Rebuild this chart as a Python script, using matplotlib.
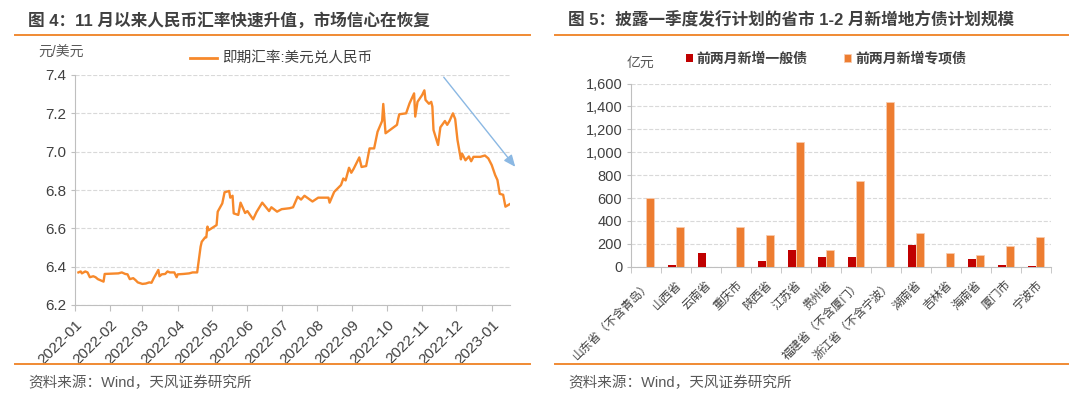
import numpy as np
import pandas as pd
import matplotlib
matplotlib.use("Agg")
import matplotlib.pyplot as plt
import matplotlib.dates as mdates
from matplotlib.lines import Line2D

plt.rcParams['font.family'] = ['Liberation Sans', 'Noto Sans CJK SC', 'DejaVu Sans']

# left chart: USD/CNY spot rate
fx_dates = ['2022-01-04', '2022-01-06', '2022-01-07', '2022-01-10', '2022-01-12', '2022-01-14',
            '2022-01-17', '2022-01-19', '2022-01-21', '2022-01-26', '2022-01-27', '2022-02-08',
            '2022-02-11', '2022-02-14', '2022-02-16', '2022-02-18', '2022-02-21', '2022-02-23',
            '2022-02-25', '2022-03-01', '2022-03-04', '2022-03-07', '2022-03-09', '2022-03-11',
            '2022-03-15', '2022-03-16', '2022-03-18', '2022-03-21', '2022-03-23', '2022-03-25',
            '2022-03-29', '2022-03-31', '2022-04-01', '2022-04-06', '2022-04-11', '2022-04-14',
            '2022-04-18', '2022-04-21', '2022-04-22', '2022-04-25', '2022-04-26', '2022-04-27',
            '2022-04-28', '2022-05-05', '2022-05-06', '2022-05-10', '2022-05-12', '2022-05-16',
            '2022-05-17', '2022-05-19', '2022-05-20', '2022-05-24', '2022-05-26', '2022-05-30',
            '2022-06-01', '2022-06-06', '2022-06-09', '2022-06-14', '2022-06-20', '2022-06-22',
            '2022-06-27', '2022-07-01', '2022-07-08', '2022-07-11', '2022-07-15', '2022-07-18',
            '2022-07-21', '2022-07-28', '2022-08-02', '2022-08-11', '2022-08-12', '2022-08-16',
            '2022-08-22', '2022-08-24', '2022-08-26', '2022-08-29', '2022-08-31', '2022-09-02',
            '2022-09-07', '2022-09-09', '2022-09-13', '2022-09-16', '2022-09-20', '2022-09-23',
            '2022-09-27', '2022-09-28', '2022-09-30', '2022-10-10', '2022-10-11', '2022-10-12',
            '2022-10-18', '2022-10-21', '2022-10-25', '2022-10-26', '2022-10-28', '2022-11-01',
            '2022-11-03', '2022-11-04', '2022-11-07', '2022-11-09', '2022-11-10', '2022-11-11',
            '2022-11-15', '2022-11-17', '2022-11-21', '2022-11-23', '2022-11-25', '2022-11-28',
            '2022-11-30', '2022-12-02', '2022-12-05', '2022-12-06', '2022-12-09', '2022-12-12',
            '2022-12-14', '2022-12-16', '2022-12-22', '2022-12-26', '2022-12-29', '2023-01-01',
            '2023-01-04', '2023-01-06', '2023-01-08', '2023-01-11', '2023-01-13', '2023-01-17']
fx_vals = [6.370, 6.375, 6.365, 6.375, 6.370, 6.345,
           6.350, 6.345, 6.335, 6.322, 6.362, 6.365,
           6.370, 6.362, 6.360, 6.335, 6.340, 6.330,
           6.318, 6.310, 6.312, 6.318, 6.316, 6.340,
           6.383, 6.350, 6.360, 6.362, 6.375, 6.370,
           6.370, 6.345, 6.360, 6.362, 6.365, 6.370,
           6.370, 6.504, 6.530, 6.553, 6.553, 6.609,
           6.590, 6.617, 6.687, 6.730, 6.788, 6.795,
           6.760, 6.770, 6.678, 6.670, 6.734, 6.680,
           6.690, 6.647, 6.685, 6.734, 6.690, 6.710,
           6.687, 6.700, 6.705, 6.710, 6.765, 6.750,
           6.770, 6.740, 6.760, 6.760, 6.734, 6.790,
           6.826, 6.860, 6.850, 6.916, 6.890, 6.910,
           6.970, 6.920, 6.925, 7.017, 7.017, 7.104,
           7.160, 7.249, 7.096, 7.140, 7.170, 7.195,
           7.200, 7.252, 7.304, 7.183, 7.260, 7.295,
           7.320, 7.270, 7.250, 7.260, 7.235, 7.113,
           7.035, 7.127, 7.160, 7.140, 7.160, 7.200,
           7.170, 7.061, 6.960, 6.990, 6.955, 6.975,
           6.950, 6.973, 6.973, 6.980, 6.965, 6.930,
           6.878, 6.852, 6.780, 6.775, 6.713, 6.727]

# right chart: new local bonds planned for Jan-Feb (100m yuan)
regions = ['山东省（不含青岛）', '山西省', '云南省', '重庆市', '陕西省', '江苏省', '贵州省',
           '福建省（不含厦门）', '浙江省（不含宁波）', '湖南省', '吉林省', '海南省', '厦门市', '宁波市']
general_bond = [0, 18, 118, 0, 47, 150, 87, 82, 0, 190, 0, 64, 12, 6]
special_bond = [600, 345, 0, 345, 280, 1085, 148, 752, 1440, 298, 123, 100, 178, 262]

ORANGE_LINE = '#F7892B'
RULE = '#F08A33'
TXT = '#404040'
GRID = '#D9D9D9'
AXC = '#BFBFBF'

fig = plt.figure(figsize=(10.8, 3.97), dpi=100)
W, H = 1080, 397

def fx(px):
    return px / W

def fy(py):
    return 1 - py / H

# titles, rules and sources
fig.text(fx(28), fy(20), '图 4：11 月以来人民币汇率快速升值，市场信心在恢复', fontsize=12,
         fontweight='bold', color=TXT, va='center', ha='left')
fig.text(fx(568), fy(20), '图 5：披露一季度发行计划的省市 1-2 月新增地方债计划规模', fontsize=12,
         fontweight='bold', color=TXT, va='center', ha='left')
for x0, x1 in [(15, 530), (555, 1068)]:
    fig.add_artist(Line2D([fx(x0), fx(x1)], [fy(35), fy(35)], color=RULE, lw=1.4))
    fig.add_artist(Line2D([fx(x0), fx(x1)], [fy(364), fy(364)], color=RULE, lw=1.4))
fig.text(fx(28), fy(383), '资料来源：Wind，天风证券研究所', fontsize=10.5, color='#595959',
         va='center', ha='left')
fig.text(fx(568), fy(383), '资料来源：Wind，天风证券研究所', fontsize=10.5, color='#595959',
         va='center', ha='left')

# ---- left chart
ax1 = fig.add_axes([fx(75), fy(305), fx(435), 230 / H])
d = pd.to_datetime(fx_dates)
ax1.plot(d, fx_vals, color=ORANGE_LINE, lw=1.7)
ax1.set_ylim(6.2, 7.4)
ax1.set_yticks(np.arange(6.2, 7.41, 0.2))
ax1.yaxis.set_major_formatter(matplotlib.ticker.FormatStrFormatter('%.1f'))
ax1.set_xlim(pd.Timestamp('2022-01-01'), pd.Timestamp('2023-01-17'))
ax1.xaxis.set_major_locator(mdates.MonthLocator())
ax1.xaxis.set_major_formatter(mdates.DateFormatter('%Y-%m'))
for lab in ax1.get_xticklabels():
    lab.set_rotation(45)
    lab.set_ha('right')
    lab.set_rotation_mode('anchor')
ax1.tick_params(axis='x', labelsize=11, colors=TXT, length=4, color=AXC, pad=5)
ax1.tick_params(axis='y', labelsize=11, colors=TXT, length=3, color=AXC, pad=3)
ax1.grid(axis='y', color=GRID, ls='--', lw=0.8)
ax1.set_axisbelow(True)
for s in ['top', 'right']:
    ax1.spines[s].set_visible(False)
for s in ['left', 'bottom']:
    ax1.spines[s].set_color(AXC)
fig.text(fx(38), fy(53), '元/美元', fontsize=10, color='#595959', va='center', ha='left')
fig.add_artist(Line2D([fx(190), fx(217)], [fy(58), fy(58)], color=ORANGE_LINE, lw=2))
fig.text(fx(222), fy(58), '即期汇率:美元兑人民币', fontsize=10.5, color=TXT, va='center', ha='left')

# arrow showing the trend
ax1.annotate('', xy=(fx(517), fy(169)), xytext=(fx(442), fy(75)),
             xycoords='figure fraction', textcoords='figure fraction',
             arrowprops=dict(arrowstyle='-|>,head_length=0.7,head_width=0.3',
                             color='#8BB8E3', lw=1.0))

# ---- right chart
ax2 = fig.add_axes([fx(630.7), fy(266.7), fx(420), (266.7 - 83.5) / H])
pos = np.arange(len(regions))
bw = 0.27
ax2.bar(pos - bw / 2, general_bond, bw, color='#C00000', label='前两月新增一般债', zorder=3)
ax2.bar(pos + bw / 2, special_bond, bw, color='#ED7D31', edgecolor='#F8CBAD', linewidth=0.6,
        label='前两月新增专项债', zorder=3)
ax2.set_xlim(-0.5, len(regions) - 0.5)
ax2.set_ylim(0, 1600)
ax2.set_yticks(np.arange(0, 1601, 200))
ax2.yaxis.set_major_formatter(matplotlib.ticker.StrMethodFormatter('{x:,.0f}'))
ax2.set_xticks(pos)
ax2.set_xticklabels(regions, rotation=45, ha='right', rotation_mode='anchor')
ax2.set_xticks(np.arange(-0.5, len(regions), 1), minor=True)
ax2.tick_params(axis='x', which='major', length=0, labelsize=8.5, colors=TXT, pad=9)
ax2.tick_params(axis='x', which='minor', length=4, color=AXC)
ax2.tick_params(axis='y', labelsize=10.5, colors=TXT, length=3, color=AXC, pad=3)
ax2.grid(axis='y', color=GRID, ls='--', lw=0.8)
ax2.set_axisbelow(True)
for s in ['top', 'right']:
    ax2.spines[s].set_visible(False)
for s in ['left', 'bottom']:
    ax2.spines[s].set_color(AXC)
fig.text(fx(627), fy(63), '亿元', fontsize=10, color='#595959', va='center', ha='left')
ax2.legend(loc='upper left', bbox_to_anchor=(fx(680), fy(46)), bbox_transform=fig.transFigure,
           ncol=2, frameon=False, handlelength=0.5, handleheight=0.5, handletextpad=0.3,
           columnspacing=2.6, borderaxespad=0, prop={'size': 10, 'weight': 'bold'},
           labelcolor=TXT)

fig.savefig('out.png', dpi=100)
